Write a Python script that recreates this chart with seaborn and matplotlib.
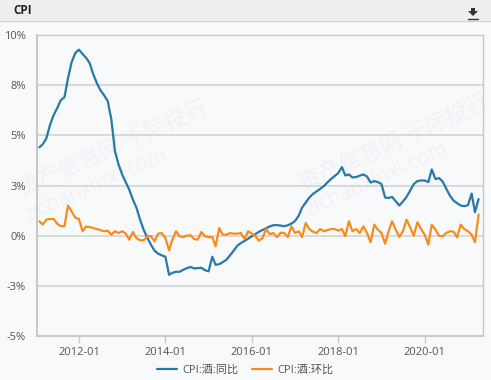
import pandas as pd
import numpy as np
import matplotlib
matplotlib.use("Agg")
import matplotlib.pyplot as plt
from matplotlib.patches import Rectangle, Polygon
import seaborn as sns

# monthly series, 2011-02 .. 2021-04 (values in %)
start_month = "2011-02"
yoy = [4.4, 4.55, 4.85, 5.5, 6.0, 6.35, 6.75, 6.9, 7.85, 8.65,
       9.1, 9.27, 9.05, 8.87, 8.6, 8.05, 7.6, 7.25, 7.0, 6.7,
       5.8, 4.2, 3.55, 3.05, 2.65, 2.3, 1.8, 1.4, 0.8, 0.3,
       -0.1, -0.45, -0.75, -0.9, -0.98, -1.05, -1.95, -1.85, -1.8, -1.8,
       -1.7, -1.62, -1.56, -1.63, -1.62, -1.6, -1.72, -1.78, -1.05, -1.45,
       -1.42, -1.32, -1.2, -0.98, -0.75, -0.5, -0.37, -0.26, -0.15, -0.03,
       0.08, 0.19, 0.28, 0.37, 0.46, 0.52, 0.53, 0.5, 0.47, 0.52,
       0.6, 0.73, 1.0, 1.4, 1.65, 1.9, 2.08, 2.2, 2.33, 2.47,
       2.65, 2.83, 2.97, 3.12, 3.42, 3.0, 3.05, 2.9, 2.92, 2.99,
       3.05, 2.95, 2.65, 2.72, 2.67, 2.57, 1.9, 1.88, 1.93, 1.72,
       1.5, 1.7, 1.93, 2.25, 2.57, 2.72, 2.75, 2.75, 2.67, 3.3,
       2.82, 2.87, 2.7, 2.35, 2.0, 1.75, 1.62, 1.5, 1.47, 1.52,
       2.1, 1.17, 1.83]
mom = [0.72, 0.55, 0.8, 0.83, 0.83, 0.6, 0.47, 0.47, 1.5, 1.2,
       0.9, 0.83, 0.22, 0.45, 0.43, 0.38, 0.33, 0.28, 0.22, 0.25,
       0.05, 0.22, 0.13, 0.22, 0.1, -0.2, 0.18, -0.12, -0.23, -0.23,
       -0.03, -0.03, -0.28, 0.1, 0.13, -0.12, -0.73, -0.2, 0.22, -0.03,
       -0.07, 0.0, 0.02, -0.17, -0.2, 0.18, -0.03, -0.07, -0.07, -0.53,
       0.38, 0.05, 0.05, 0.13, 0.1, 0.1, 0.13, -0.17, 0.22, 0.1,
       -0.03, -0.25, -0.12, 0.33, 0.08, 0.13, -0.07, 0.15, 0.13, -0.07,
       0.47, 0.13, 0.22, -0.07, 0.63, 0.33, 0.2, 0.13, 0.33, 0.22,
       0.28, 0.33, 0.33, 0.25, 0.33, -0.03, 0.72, 0.22, 0.33, 0.13,
       0.47, 0.13, -0.33, 0.55, 0.3, 0.13, -0.4, 0.2, 0.72, 0.3,
       -0.07, 0.22, 0.8, 0.4, 0.0, 0.67, 0.33, 0.05, -0.45, 0.55,
       0.3, 0.0, -0.03, 0.13, 0.22, 0.2, -0.08, 0.55, 0.33, 0.22,
       0.05, -0.33, 1.05]
series_names = ["CPI:酒:同比", "CPI:酒:环比"]
series_colors = ["#2878a8", "#f98b1d"]
y_ticks = [-5, -2.5, 0, 2.5, 5, 7.5, 10]
y_labels = ["-5%", "-3%", "0%", "3%", "5%", "8%", "10%"]
x_ticks = ["2012-01", "2014-01", "2016-01", "2018-01", "2020-01"]

dates = pd.date_range(start_month, periods=len(yoy), freq="MS")
df = pd.concat([
    pd.DataFrame({"date": dates, "value": yoy, "series": series_names[0]}),
    pd.DataFrame({"date": dates, "value": mom, "series": series_names[1]}),
])

sns.set_style("white")
plt.rcParams["font.family"] = ["Open Sans", "Noto Sans CJK SC", "DejaVu Sans"]

bg = "#f8f9fb"
fig = plt.figure(figsize=(4.91, 3.8), dpi=100, facecolor=bg)

# header bar
fig.patches.append(Rectangle((0, 1 - 20 / 380), 1, 20 / 380, transform=fig.transFigure,
                             facecolor="#eeeeee", edgecolor="none", zorder=0))
fig.add_artist(plt.Line2D([0, 1], [1 - 20.5 / 380] * 2, transform=fig.transFigure,
                          color="#d2d2d2", lw=1))
fig.text(13 / 491, 1 - 10 / 380, "CPI", fontsize=8.5, fontweight="bold",
         color="#222222", va="center", ha="left")
# download icon
fig.patches.append(Polygon([[471 / 491, 1 - 8 / 380], [475 / 491, 1 - 8 / 380],
                            [475 / 491, 1 - 11 / 380], [478 / 491, 1 - 11 / 380],
                            [473 / 491, 1 - 16 / 380], [468 / 491, 1 - 11 / 380],
                            [471 / 491, 1 - 11 / 380]],
                           closed=True, transform=fig.transFigure,
                           facecolor="#333333", edgecolor="none"))
fig.add_artist(plt.Line2D([468 / 491, 478 / 491], [1 - 18.5 / 380] * 2,
                          transform=fig.transFigure, color="#333333", lw=1))

ax = fig.add_axes([37 / 491, 1 - 336 / 380, 446 / 491, 301 / 380])
ax.set_facecolor(bg)

# faint watermarks
for (wx, wy) in [(0.17, 0.62), (0.80, 0.64)]:
    ax.text(wx, wy, "资产信息网 千际投行", transform=ax.transAxes, rotation=24,
            fontsize=16, color="#eff1f4", ha="center", va="center", zorder=0,
            family=["Noto Sans CJK SC"])
    ax.text(wx - 0.04, wy - 0.12, "zichanxinxi.com", transform=ax.transAxes,
            rotation=24, fontsize=15, color="#eff1f4", ha="center", va="center",
            zorder=0)

sns.lineplot(data=df, x="date", y="value", hue="series", palette=series_colors,
             linewidth=1.6, ax=ax, legend=False, zorder=3)

ax.set_ylim(-5, 10)
ax.set_yticks(y_ticks)
ax.set_yticklabels(y_labels)
ax.set_xlim(pd.Timestamp("2011-01-12"), pd.Timestamp("2021-05-08"))
ax.set_xticks([pd.Timestamp(t) for t in x_ticks])
ax.set_xticklabels(x_ticks)
ax.set_xlabel("")
ax.set_ylabel("")
ax.grid(axis="y", color="#d6d6d6", lw=1.3, zorder=1)
for s in ax.spines.values():
    s.set_color("#c6c9cc")
    s.set_linewidth(1.0)
ax.spines["left"].set_linewidth(1.5)
ax.spines["bottom"].set_linewidth(1.5)
ax.tick_params(axis="y", length=0, pad=8, labelsize=8, labelcolor="#555555")
ax.tick_params(axis="x", length=5, width=1, color="#c6c9cc", pad=3,
               labelsize=8, labelcolor="#555555", direction="out", bottom=True)

handles = [plt.Line2D([], [], color=c, lw=1.6) for c in series_colors]
fig.legend(handles, series_names, loc="center", bbox_to_anchor=(0.5, 1 - 370 / 380),
           ncol=2, frameon=False, fontsize=8, handlelength=1.8, handletextpad=0.5,
           columnspacing=1.2, labelcolor="#555555")

fig.savefig("out.png", dpi=100, facecolor=bg)
